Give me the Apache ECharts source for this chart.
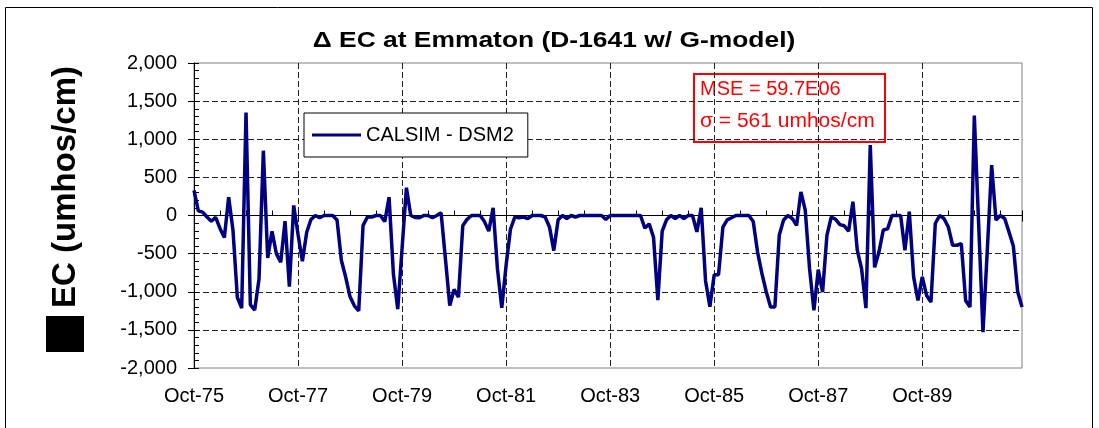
<!DOCTYPE html>
<html>
<head>
<meta charset="utf-8">
<title>Delta EC at Emmaton</title>
<script src="https://cdn.jsdelivr.net/npm/echarts@6/dist/echarts.min.js"></script>
<style>
  html, body { margin: 0; padding: 0; background: #fff; }
  #chart { width: 1099px; height: 428px; }
</style>
</head>
<body>
<div id="chart"></div>
<script>
// x = month index from Oct-75 (0) to Sep-91 (191)
const tickLabels = ['Oct-75', 'Oct-77', 'Oct-79', 'Oct-81', 'Oct-83', 'Oct-85', 'Oct-87', 'Oct-89']
const seriesName = 'CALSIM - DSM2'
// monthly EC difference, umhos/cm
const diffEC = [
  330, 60, 44, -20, -75, -25, -170, -290, 240, -197, -1075, -1215,
  1350, -1170, -1240, -833, 850, -557, -206, -500, -614, -75, -934, 132,
  -250, -600, -220, -50, 0, -30, 0, 0, 0, -60, -590, -810,
  -1066, -1185, -1250, -130, -20, -20, 0, 0, -80, 240, -768, -1228,
  -430, 365, 0, -25, -30, 0, 0, -30, 0, 35, -570, -1180,
  -970, -1070, -135, -50, 0, 0, 0, -80, -205, 100, -700, -1210,
  -650, -180, -20, -30, -20, -40, 0, 0, 0, -20, -150, -460,
  -57, 0, -40, 0, -20, 0, 0, 0, 0, 0, 0, -50,
  0, 0, 0, 0, 0, 0, 0, 0, -165, -110, -285, -1110,
  -206, -57, 0, -40, 0, -40, 0, 0, -215, 100, -855, -1197,
  -776, -776, -153, -57, -30, 0, 0, 0, 0, -80, -480, -760,
  -1000, -1200, -1200, -260, -60, 0, -40, -130, 310, 70, -700, -1245,
  -710, -1005, -260, -20, -50, -120, -135, -205, 180, -455, -700, -1215,
  925, -680, -480, -190, -175, 0, 0, 0, -455, 50, -805, -1115,
  -805, -1050, -1135, -105, 0, -40, -150, -390, -390, -370, -1115, -1200,
  1310, -110, -1530, -450, 660, -60, 0, -40, -215, -400, -1000, -1200
]
const statLines = ['MSE = 59.7E06', 'σ = 561 umhos/cm']

const chart = echarts.init(document.getElementById('chart'))

const gridLine = {
  show: true,
  showMinLine: false,
  showMaxLine: false,
  lineStyle: { color: '#222', width: 1, type: [6, 3] }
}

const option = {
  backgroundColor: '#fff',
  animation: false,
  textStyle: { fontFamily: 'Liberation Sans', color: '#000' },
  grid: {
    left: 194,
    top: 63,
    right: 77,
    bottom: 60,
    show: true,
    borderColor: '#808080',
    borderWidth: 1,
    backgroundColor: '#fff'
  },
  legend: {
    left: 304,
    top: 113,
    padding: [12, 14, 12, 8],
    icon: 'rect',
    itemWidth: 49,
    itemHeight: 3,
    borderColor: '#000',
    borderWidth: 1,
    backgroundColor: '#fff',
    textStyle: { fontSize: 20, color: '#000' },
    data: [seriesName]
  },
  xAxis: [
    {
      type: 'value',
      min: 0,
      max: 191,
      interval: 24,
      position: 'bottom',
      axisLine: { lineStyle: { color: '#000', width: 1 } },
      axisTick: { show: true, length: 6, lineStyle: { color: '#000' } },
      axisLabel: {
        fontSize: 20,
        color: '#000',
        margin: 18,
        formatter: v => (v % 24 === 0 ? tickLabels[v / 24] : '')
      },
      splitLine: gridLine
    },
    {
      // minor ticks every 6 months, pointing into the plot
      type: 'value',
      min: 0,
      max: 191,
      interval: 6,
      position: 'bottom',
      axisLine: { show: false },
      axisTick: { show: true, inside: true, length: 5, lineStyle: { color: '#000' } },
      axisLabel: { show: false },
      splitLine: { show: false }
    }
  ],
  yAxis: [
    {
      type: 'value',
      min: -2000,
      max: 2000,
      interval: 500,
      position: 'left',
      axisLine: { show: true, lineStyle: { color: '#000', width: 1 } },
      axisTick: { show: true, length: 6, lineStyle: { color: '#000' } },
      axisLabel: {
        fontSize: 20,
        color: '#000',
        margin: 17,
        formatter: v => echarts.format.addCommas(v)
      },
      splitLine: gridLine
    },
    {
      type: 'value',
      min: -2000,
      max: 2000,
      interval: 100,
      position: 'left',
      axisLine: { show: false },
      axisTick: { show: true, inside: true, length: 5, lineStyle: { color: '#000' } },
      axisLabel: { show: false },
      splitLine: { show: false }
    }
  ],
  series: [
    {
      name: seriesName,
      type: 'line',
      symbol: 'none',
      z: 5,
      lineStyle: { color: '#000080', width: 3.5 },
      itemStyle: { color: '#000080' },
      data: diffEC.map((v, i) => [i, v])
    }
  ],
  graphic: [
    {
      type: 'rect',
      z: 0,
      shape: { x: 5.5, y: 7.5, width: 1087, height: 440 },
      style: { fill: 'none', stroke: '#000', lineWidth: 1 }
    },
    {
      type: 'text',
      x: 554,
      y: 41,
      scaleX: 1.2,
      style: {
        text: 'Δ EC at Emmaton (D-1641 w/ G-model)',
        font: 'bold 22px "Liberation Sans"',
        fill: '#000',
        align: 'center',
        verticalAlign: 'middle'
      }
    },
    {
      type: 'text',
      x: 66,
      y: 187,
      rotation: Math.PI / 2,
      style: {
        text: 'EC (umhos/cm)',
        font: 'bold 33px "Liberation Sans"',
        fill: '#000',
        align: 'center',
        verticalAlign: 'middle'
      }
    },
    {
      type: 'rect',
      shape: { x: 46, y: 316, width: 38, height: 36 },
      style: { fill: '#000' }
    },
    {
      type: 'group',
      z: 100,
      children: [
        {
          type: 'rect',
          shape: { x: 694, y: 74, width: 191, height: 68 },
          style: { fill: '#fff', stroke: '#ff0000', lineWidth: 2 }
        },
        {
          type: 'text',
          x: 700,
          y: 89,
          style: { text: statLines[0], font: '20px "Liberation Sans"', fill: '#ff0000', verticalAlign: 'middle' }
        },
        {
          type: 'text',
          x: 700,
          y: 121,
          style: { text: statLines[1], font: '21px "Liberation Sans"', fill: '#ff0000', verticalAlign: 'middle' }
        }
      ]
    }
  ]
}

chart.setOption(option)
</script>
</body>
</html>
